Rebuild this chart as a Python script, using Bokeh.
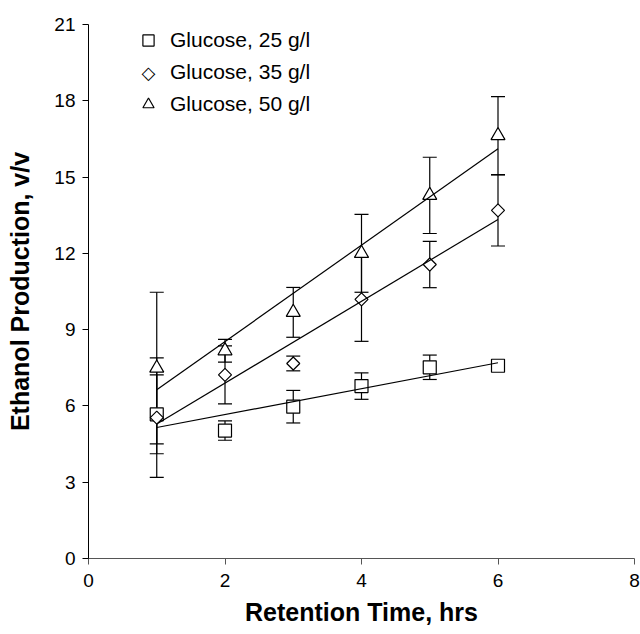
import numpy as np
from bokeh.plotting import figure
from bokeh.models import (Range1d, Whisker, TeeHead, ColumnDataSource, Legend, LegendItem,
                          FixedTicker, Label)
from bokeh.embed import file_html
from bokeh.resources import INLINE

# ---- data ----
hours = [1, 2, 3, 4, 5, 6]
g25 = [5.67, 5.03, 5.97, 6.78, 7.52, 7.58]
g25_err = [1.55, 0.38, 0.64, 0.52, 0.48, 0.03]
g35 = [5.54, 7.22, 7.67, 10.19, 11.56, 13.69]
g35_err = [2.35, 1.14, 0.29, 1.65, 0.91, 1.40]
g50 = [7.49, 8.17, 9.68, 12.00, 14.28, 16.63]
g50_err = [2.98, 0.45, 0.98, 1.53, 1.50, 1.53]
labels = ["Glucose, 25 g/l", "Glucose, 35 g/l", "Glucose, 50 g/l"]
x_ticks = [0, 2, 4, 6, 8]
y_ticks = [0, 3, 6, 9, 12, 15, 18, 21]

FONT = "Liberation Sans"

p = figure(width=640, height=634, output_backend="svg", toolbar_location=None,
           x_range=Range1d(0, 8), y_range=Range1d(0, 21),
           min_border_left=88, min_border_right=6, min_border_top=24, min_border_bottom=76)
p.outline_line_color = None
p.xgrid.visible = False
p.ygrid.visible = False
p.background_fill_color = "white"
p.border_fill_color = "white"

for ax in (p.xaxis[0], p.yaxis[0]):
    ax.minor_tick_line_color = None
    ax.major_tick_in = 0
    ax.major_tick_out = 6
    ax.major_label_text_font = FONT
    ax.major_label_text_font_size = "19px"
    ax.major_label_text_color = "black"
    ax.axis_label_text_font = FONT
    ax.axis_label_text_font_style = "bold"
    ax.axis_label_text_font_size = "25px"
    ax.axis_label_text_color = "black"
    ax.major_tick_line_color = "black"
p.xaxis.ticker = FixedTicker(ticks=x_ticks)
p.yaxis.ticker = FixedTicker(ticks=y_ticks)
p.xaxis.axis_label = "Retention Time, hrs"
p.yaxis.axis_label = "Ethanol Production, v/v"
p.xaxis.axis_line_color = "#555555"
p.xaxis.major_tick_line_color = "#555555"
p.yaxis.axis_line_color = "black"
p.xaxis.major_label_standoff = 9
p.yaxis.major_label_standoff = 7
p.xaxis.axis_label_standoff = 8
p.yaxis.axis_label_standoff = 17

series = [
    (g25, g25_err, "square", 13, 0.0),
    (g35, g35_err, "square", 9.2, np.pi / 4),
    (g50, g50_err, "triangle", 14, 0.0),
]

renderers = []
for vals, errs, marker, size, ang in series:
    vals = np.array(vals)
    errs = np.array(errs)
    src = ColumnDataSource(dict(x=hours, y=vals, lo=vals - errs, hi=vals + errs))
    r = p.scatter("x", "y", source=src, marker=marker, size=size, angle=ang,
                  fill_color="white", line_color="black", line_width=1.2)
    renderers.append(r)
    # linear trend line
    slope, icpt = np.polyfit(hours, vals, 1)
    xs = np.array([min(hours), max(hours)])
    p.line(xs, slope * xs + icpt, line_color="black", line_width=1.2)
    w = Whisker(base="x", lower="lo", upper="hi", source=src, dimension="height",
                line_color="black", line_width=1.2,
                upper_head=TeeHead(size=14, line_color="black", line_width=1.2),
                lower_head=TeeHead(size=14, line_color="black", line_width=1.2))
    p.add_layout(w)

# legend: the rotated-square (diamond) symbol is drawn as a text glyph, since
# legend glyphs are never rotated
dummy = p.scatter(x=[], y=[], marker="square", fill_alpha=0, line_alpha=0)
items = [LegendItem(label=labels[0], renderers=[renderers[0]]),
         LegendItem(label=labels[1], renderers=[dummy]),
         LegendItem(label=labels[2], renderers=[renderers[2]])]
legend = Legend(items=items, location=(46, 438), border_line_color=None,
                background_fill_alpha=0, padding=0, margin=0, spacing=0,
                glyph_height=32, label_height=32, glyph_width=28, label_standoff=8,
                label_text_font=FONT, label_text_font_size="21px", label_text_color="black")
p.add_layout(legend)
p.add_layout(Label(x=60, y=486, x_units="screen", y_units="screen", text="\u25C7",
                   text_font="DejaVu Sans", text_font_size="18px",
                   text_align="center", text_baseline="middle", text_color="black"))

open("out.html", "w").write(file_html(p, INLINE))
